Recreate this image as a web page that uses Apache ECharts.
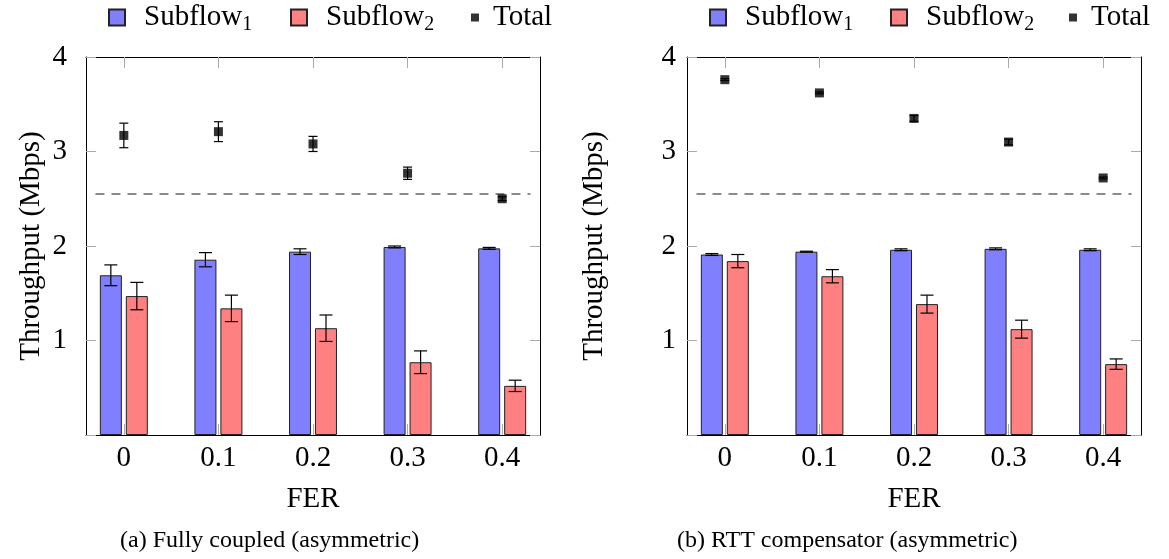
<!DOCTYPE html>
<html>
<head>
<meta charset="utf-8">
<script src="https://cdn.jsdelivr.net/npm/echarts@6/dist/echarts.min.js"></script>
<style>
html, body { margin: 0; background: #fff; }
#main { width: 1169px; height: 559px; }
</style>
</head>
<body>
<div id="main"></div>
<script>
// FER values on the x axis
var fer = [0, 0.1, 0.2, 0.3, 0.4];

// (a) Fully coupled
var aSub1 = [1.69, 1.855, 1.94, 1.99, 1.975];
var aSub1Err = [0.11, 0.075, 0.03, 0.01, 0.01];
var aSub2 = [1.47, 1.34, 1.13, 0.77, 0.52];
var aSub2Err = [0.145, 0.14, 0.14, 0.12, 0.06];
var aTotal = [3.17, 3.21, 3.08, 2.77, 2.50];
var aTotalErr = [0.13, 0.105, 0.08, 0.065, 0.02];

// (b) RTT compensator
var bSub1 = [1.91, 1.94, 1.96, 1.97, 1.96];
var bSub1Err = [0.01, 0.005, 0.01, 0.01, 0.01];
var bSub2 = [1.84, 1.68, 1.385, 1.12, 0.75];
var bSub2Err = [0.07, 0.07, 0.095, 0.095, 0.055];
var bTotal = [3.76, 3.62, 3.35, 3.10, 2.72];
var bTotalErr = [0.01, 0.01, 0.03, 0.03, 0.01];

// dashed reference line
var refLevel = 2.55;
var refSpan = [-0.03, 0.43];

var captions = ['(a) Fully coupled (asymmetric)', '(b) RTT compensator (asymmetric)'];

var FONT = '"Liberation Serif", "Times New Roman", Times, "DejaVu Serif", serif';
var myChart = echarts.init(document.getElementById('main'));

function pairs(vals) {
  return vals.map(function (v, i) { return [fer[i], v]; });
}

function errorBars(ax, vals, errs, dx, capW) {
  return {
    type: 'custom', xAxisIndex: ax, yAxisIndex: ax, z: 5, silent: true,
    data: vals.map(function (v, i) { return [fer[i], v - errs[i], v + errs[i]]; }),
    renderItem: function (params, api) {
      var hi = api.coord([api.value(0), api.value(2)]);
      var lo = api.coord([api.value(0), api.value(1)]);
      var x = hi[0] + dx, h = capW / 2;
      var st = { stroke: '#000', lineWidth: 1.2 };
      return {
        type: 'group', children: [
          { type: 'line', shape: { x1: x, y1: hi[1], x2: x, y2: lo[1] }, style: st },
          { type: 'line', shape: { x1: x - h, y1: hi[1], x2: x + h, y2: hi[1] }, style: st },
          { type: 'line', shape: { x1: x - h, y1: lo[1], x2: x + h, y2: lo[1] }, style: st }
        ]
      };
    }
  };
}

function panelSeries(ax, sub1, sub1Err, sub2, sub2Err, total, totalErr) {
  return [
    {
      name: 'Subflow1', type: 'bar', xAxisIndex: ax, yAxisIndex: ax,
      barWidth: 22, barGap: '18%', z: 2,
      itemStyle: { color: '#8080ff', borderColor: '#222', borderWidth: 1 },
      data: pairs(sub1)
    },
    {
      name: 'Subflow2', type: 'bar', xAxisIndex: ax, yAxisIndex: ax,
      barWidth: 22, barGap: '18%', z: 2,
      itemStyle: { color: '#ff8080', borderColor: '#222', borderWidth: 1 },
      data: pairs(sub2)
    },
    errorBars(ax, sub1, sub1Err, -13, 13),
    errorBars(ax, sub2, sub2Err, 13, 13),
    {
      type: 'line', xAxisIndex: ax, yAxisIndex: ax, symbol: 'none', silent: true, z: 3,
      lineStyle: { color: '#666', width: 1.5, type: [9, 7] },
      data: refSpan.map(function (x) { return [x, refLevel]; })
    },
    {
      name: 'Total', type: 'scatter', xAxisIndex: ax, yAxisIndex: ax,
      symbol: 'rect', symbolSize: 9, z: 6,
      itemStyle: { color: '#000' },
      data: pairs(total)
    },
    errorBars(ax, total, totalErr, 0, 9)
  ];
}

function xAx(g, pos, labels) {
  return {
    type: 'value', gridIndex: g, position: pos, min: -0.04, max: 0.44,
    axisLine: { show: true, onZero: false, lineStyle: { color: '#000', width: 1 } },
    axisTick: { show: true, inside: true, length: 11, customValues: fer, lineStyle: { color: '#aaa' } },
    axisLabel: {
      show: labels, customValues: fer, margin: 9,
      formatter: function (v) { return String(v); },
      fontFamily: FONT, fontSize: 29, color: '#000'
    },
    splitLine: { show: false },
    name: labels ? 'FER' : '', nameLocation: 'middle', nameGap: 50,
    nameTextStyle: { fontFamily: FONT, fontSize: 29, color: '#000' }
  };
}

function yAx(g, pos, labels, margin, nameGap) {
  return {
    type: 'value', gridIndex: g, position: pos, min: 0, max: 4, interval: 1,
    axisLine: { show: true, onZero: false, lineStyle: { color: '#000', width: 1 } },
    axisTick: { show: true, inside: true, length: 10, lineStyle: { color: '#aaa' } },
    axisLabel: {
      show: labels, margin: margin,
      formatter: function (v) { return v === 0 ? '' : String(v); },
      fontFamily: FONT, fontSize: 29, color: '#000'
    },
    splitLine: { show: false },
    name: labels ? 'Throughput (Mbps)' : '', nameLocation: 'middle', nameGap: nameGap,
    nameTextStyle: { fontFamily: FONT, fontSize: 29, color: '#000' }
  };
}

function leg(name, left, size, pad) {
  return {
    data: [name], left: left, top: 3, padding: 0, icon: 'rect',
    itemWidth: size, itemHeight: size,
    formatter: function (n) {
      return n === 'Total' ? '{t|Total}' : '{a|Subflow}{s|' + n.slice(-1) + '}';
    },
    textStyle: {
      fontFamily: FONT, fontSize: 29, color: '#000',
      rich: {
        a: { fontFamily: FONT, fontSize: 29, lineHeight: 34, padding: [0, 0, 0, pad] },
        t: { fontFamily: FONT, fontSize: 29, lineHeight: 34, padding: [0, 0, 0, pad] },
        s: { fontFamily: FONT, fontSize: 20, lineHeight: 20, verticalAlign: 'bottom' }
      }
    }
  };
}

var option = {
  animation: false,
  grid: [
    { left: 86, top: 57, width: 454, height: 378 },
    { left: 687, top: 57, width: 454, height: 378 }
  ],
  xAxis: [xAx(0, 'bottom', true), xAx(0, 'top', false), xAx(1, 'bottom', true), xAx(1, 'top', false)],
  yAxis: [yAx(0, 'left', true, 19, 40), yAx(0, 'right', false, 0, 0), yAx(1, 'left', true, 11, 78), yAx(1, 'right', false, 0, 0)],
  legend: [
    leg('Subflow1', 108, 16, 14), leg('Subflow2', 290, 16, 14), leg('Total', 471, 8, 9),
    leg('Subflow1', 709, 16, 14), leg('Subflow2', 890, 16, 14), leg('Total', 1069, 8, 9)
  ],
  graphic: [
    { type: 'text', x: 120, y: 541, style: { text: captions[0], fontFamily: FONT, fontSize: 24, fill: '#000', textVerticalAlign: 'middle' } },
    { type: 'text', x: 677, y: 541, style: { text: captions[1], fontFamily: FONT, fontSize: 24, fill: '#000', textVerticalAlign: 'middle' } }
  ],
  series: panelSeries(0, aSub1, aSub1Err, aSub2, aSub2Err, aTotal, aTotalErr)
    .concat(panelSeries(2, bSub1, bSub1Err, bSub2, bSub2Err, bTotal, bTotalErr))
};

option && myChart.setOption(option);
</script>
</body>
</html>
